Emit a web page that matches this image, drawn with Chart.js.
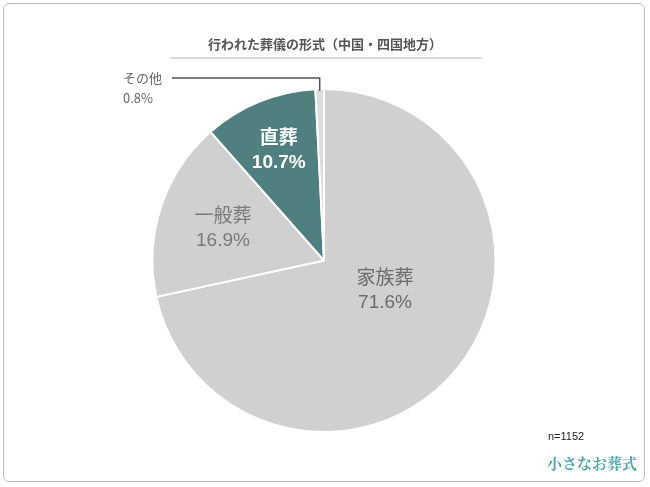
<!DOCTYPE html><html><head><meta charset="utf-8">
<script src="https://cdn.jsdelivr.net/npm/chart.js@4"></script>
<style>body{margin:0;background:#fff}#w{position:absolute;left:3px;top:3px;width:642px;height:479px;border:1px solid #bbb;border-radius:6px;box-sizing:border-box}
#c{position:absolute;left:0;top:0}</style></head><body>
<div id="w"></div><canvas id="c" width="650" height="487"></canvas>
<script>
const categories=["家族葬","一般葬","直葬","その他"];
const values=[71.6,16.9,10.7,0.8];
const colors=["#d0d0d0","#d0d0d0","#4f7f7e","#dcdcdc"];
const labelColors=["#6b6b6b","#7a7a7a","#ffffff","#666"];
const labelPlugin={id:"lbl",afterDatasetsDraw(ch){
 const x=ch.ctx,m=ch.getDatasetMeta(0);
 x.save();x.textAlign="center";x.textBaseline="middle";
 m.data.forEach((a,i)=>{
  if(i===3){
   const ang=(a.startAngle+a.endAngle)/2;
   const px=a.x+Math.cos(ang)*a.outerRadius,py=a.y+Math.sin(ang)*a.outerRadius;
   x.strokeStyle="#555";x.lineWidth=1.5;x.beginPath();x.moveTo(px,py+2);x.lineTo(px,78);x.lineTo(172,78);x.stroke();
   x.fillStyle="#666";x.font="13px 'Noto Sans CJK JP'";x.textAlign="left";
   x.fillText(categories[i],123,78);x.fillText(values[i].toFixed(1)+"%",123,98);x.textAlign="center";return;}
  const ang=(a.startAngle+a.endAngle)/2,r=[0.25,0.62,0.7][i]*a.outerRadius;
  let cx=a.x+Math.cos(ang)*r,cy=a.y+Math.sin(ang)*r;
  if(i===0){cx=385;cy=290;}
  x.fillStyle=labelColors[i];
  const b=i===2?"bold ":"";
  x.font=b+"19px 'Noto Sans CJK JP'";x.fillText(categories[i],cx,cy-13);
  x.font=b+"19px 'Liberation Sans'";x.fillText(values[i].toFixed(1)+"%",cx,cy+13);
 });
 x.font="bold 13px 'Noto Sans CJK JP'";x.fillStyle="#555";x.fillText("行われた葬儀の形式（中国・四国地方）",325,44);
 x.strokeStyle="#ccc";x.lineWidth=1.5;x.beginPath();x.moveTo(170,58);x.lineTo(482,58);x.stroke();
 x.textAlign="left";x.fillStyle="#222";x.font="11px 'Liberation Sans'";x.fillText("n=1152",548,437);
 x.fillStyle="#4fa3b0";x.font="bold 15px 'Noto Serif CJK JP','Noto Sans CJK JP'";x.fillText("小さなお葬式",547,463);
 x.restore();}};
new Chart(document.getElementById("c"),{type:"pie",plugins:[labelPlugin],
 data:{labels:categories,datasets:[{data:values,backgroundColor:colors,borderColor:"#fff",borderWidth:2}]},
 options:{responsive:false,animation:false,layout:{padding:{top:88,bottom:54,left:150,right:152}},
  plugins:{legend:{display:false},tooltip:{enabled:false}}}});
</script></body></html>
